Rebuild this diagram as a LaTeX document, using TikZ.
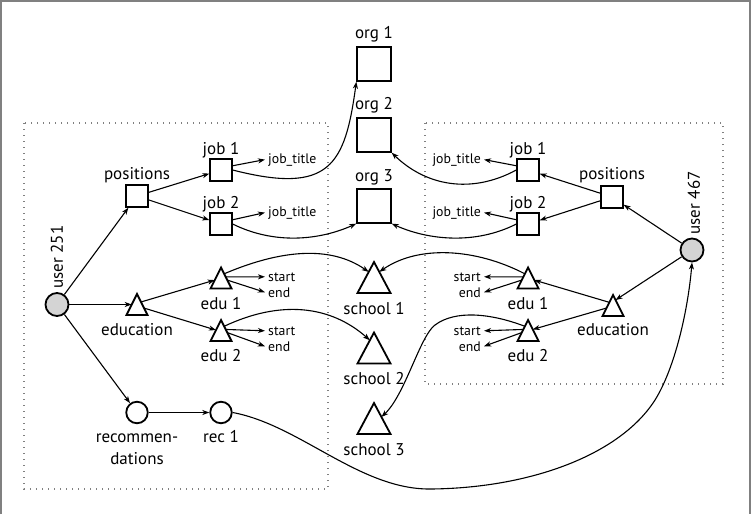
\documentclass[tikz,border=0pt]{standalone}
\usepackage{fontspec}
\setmainfont{PT Sans}
\usetikzlibrary{calc,arrows.meta}
\begin{document}
\begin{tikzpicture}[x=1pt,y=-1pt,
  box/.style={draw, line width=1.8pt, minimum size=21.5pt, inner sep=0pt},
  bigbox/.style={box, minimum size=33.5pt},
  tri/.style={minimum width=21pt, minimum height=21pt, inner sep=0pt, outer sep=0pt},
  bigtri/.style={minimum width=33pt, minimum height=31pt, inner sep=0pt, outer sep=0pt},
  triline/.style={draw, line width=1.8pt, line join=miter},
  usr/.style={draw, circle, fill=black!17, line width=1.8pt, minimum size=23pt, inner sep=0pt},
  recn/.style={draw, circle, line width=1.8pt, minimum size=21.5pt, inner sep=0pt},
  lab/.style={font=\fontsize{17}{19}\selectfont, inner sep=0pt},
  sml/.style={font=\fontsize{13.8}{15}\selectfont, inner sep=0pt},
  conn/.style={line width=1.1pt, -{Stealth[length=7pt,width=5pt,inset=2pt]}},
  grp/.style={draw=black!50, line width=1.3pt, dash pattern=on 1.3pt off 4.7pt},
  frame/.style={draw=black!50, line width=1.6pt}
]
\useasboundingbox (0,0) rectangle (751,514);
\draw[frame] (0.8,514) -- (0.8,0.8) -- (750.2,0.8) -- (750.2,514);
% group boxes
\draw[grp] (24,123) rectangle (328,489);
\draw[grp] (425,123) rectangle (723,384);
% centre column
\node[bigbox] (o1) at (374,64) {};
\node[bigbox] (o2) at (374,135) {};
\node[bigbox] (o3) at (374,206) {};
\node[lab, anchor=base] (lo1) at (374,38) {org 1};
\node[lab, anchor=base] (lo2) at (374,109) {org 2};
\node[lab, anchor=base] (lo3) at (374,181) {org 3};
\node[bigtri] (s1) at (374,277.5) {};
\node[bigtri] (s2) at (374,348) {};
\node[bigtri] (s3) at (374,418.5) {};
\node[lab, anchor=base] (ls1) at (374,314) {school 1};
\node[lab, anchor=base] (ls2) at (374,384) {school 2};
\node[lab, anchor=base] (ls3) at (374,455) {school 3};
% left user
\node[usr] (u1) at (57,304.5) {};
\node[lab, rotate=90] (lu1) at (57,257) {user 251};
\node[box] (p1) at (137,196) {};
\node[lab, anchor=base] (lp1) at (137,179) {positions};
\node[box] (j1) at (221,170) {};
\node[box] (j2) at (221,224) {};
\node[lab, anchor=base] (lj1) at (221,154) {job 1};
\node[lab, anchor=base] (lj2) at (221,208) {job 2};
\node[sml, anchor=base west] (t1) at (268,163) {job\_title};
\node[sml, anchor=base west] (t2) at (268,216) {job\_title};
\node[tri] (ed1) at (137,304.5) {};
\node[lab, anchor=base] (led1) at (137,335) {education};
\node[tri] (e1) at (221,278) {};
\node[tri] (e2) at (221,330.5) {};
\node[lab, anchor=base] (le1) at (221,309) {edu 1};
\node[lab, anchor=base] (le2) at (221,361) {edu 2};
\node[sml, anchor=base west] (st1) at (268,281) {start};
\node[sml, anchor=base west] (en1) at (268,297) {end};
\node[sml, anchor=base west] (st2) at (268,335) {start};
\node[sml, anchor=base west] (en2) at (268,351) {end};
\node[recn] (rc) at (137,412.5) {};
\node[lab, anchor=base] (lrc1) at (137,442) {recommen-};
\node[lab, anchor=base] (lrc2) at (137,464) {dations};
\node[recn] (r1) at (221,412.5) {};
\node[lab, anchor=base] (lr1) at (221,442) {rec 1};
% right user
\node[usr] (u2) at (692,250) {};
\node[lab, rotate=90] (lu2) at (694,203) {user 467};
\node[box] (p2) at (612,197) {};
\node[lab, anchor=base] (lp2) at (612,179) {positions};
\node[box] (k1) at (528,170) {};
\node[box] (k2) at (528,224) {};
\node[lab, anchor=base] (lk1) at (528,154) {job 1};
\node[lab, anchor=base] (lk2) at (528,208) {job 2};
\node[sml, anchor=base east] (t3) at (481,163) {job\_title};
\node[sml, anchor=base east] (t4) at (481,216) {job\_title};
\node[tri] (ed2) at (613,305.5) {};
\node[lab, anchor=base] (led2) at (613,335) {education};
\node[tri] (f1) at (528,278) {};
\node[tri] (f2) at (528,330.5) {};
\node[lab, anchor=base] (lf1) at (528,309) {edu 1};
\node[lab, anchor=base] (lf2) at (528,361) {edu 2};
\node[sml, anchor=base east] (st3) at (481,281) {start};
\node[sml, anchor=base east] (en3) at (481,297) {end};
\node[sml, anchor=base east] (st4) at (481,335) {start};
\node[sml, anchor=base east] (en4) at (481,351) {end};
% triangle outlines
\foreach \n in {s1,s2,s3,ed1,e1,e2,ed2,f1,f2}
  \draw[triline] (\n.south west) -- (\n.north) -- (\n.south east) -- cycle;
% left connectors
\draw[conn] (u1) -- (p1);
\draw[conn] (u1.east) -- ($(ed1.north)!0.5!(ed1.south west)$);
\draw[conn] (u1) -- (rc);
\draw[conn] (p1) -- (j1);
\draw[conn] (p1) -- (j2);
\draw[conn] (j1.20) -- ([xshift=-3pt]t1.west);
\draw[conn] (j2.20) -- ([xshift=-3pt]t2.west);
\draw[conn] ($(ed1.north)!0.38!(ed1.south east)$) -- ($(e1.north)!0.6!(e1.south west)$);
\draw[conn] ($(ed1.north)!0.67!(ed1.south east)$) -- ($(e2.north)!0.48!(e2.south west)$);
\draw[conn] ($(e1.north)!0.45!(e1.south east)$) -- ([xshift=-3pt]st1.west);
\draw[conn] ($(e1.north)!0.6!(e1.south east)$) -- ([xshift=-3pt]en1.west);
\draw[conn] ($(e2.north)!0.45!(e2.south east)$) -- ([xshift=-3pt]st2.west);
\draw[conn] ($(e2.north)!0.6!(e2.south east)$) -- ([xshift=-3pt]en2.west);
\draw[conn] (rc) -- (r1);
% right connectors
\draw[conn] (u2) -- (p2);
\draw[conn] (u2) -- ($(ed2.north)!0.24!(ed2.south east)$);
\draw[conn] (p2) -- (k1);
\draw[conn] (p2) -- (k2);
\draw[conn] (k1.160) -- ([xshift=3pt]t3.east);
\draw[conn] (k2.160) -- ([xshift=3pt]t4.east);
\draw[conn] ($(ed2.north)!0.35!(ed2.south west)$) -- ($(f1.north)!0.6!(f1.south east)$);
\draw[conn] ($(ed2.north)!0.62!(ed2.south west)$) -- ($(f2.north)!0.45!(f2.south east)$);
\draw[conn] ($(f1.north)!0.45!(f1.south west)$) -- ([xshift=3pt]st3.east);
\draw[conn] ($(f1.north)!0.6!(f1.south west)$) -- ([xshift=3pt]en3.east);
\draw[conn] ($(f2.north)!0.45!(f2.south west)$) -- ([xshift=3pt]st4.east);
\draw[conn] ($(f2.north)!0.6!(f2.south west)$) -- ([xshift=3pt]en4.east);
% cross links
\draw[conn] (j1.east) .. controls (330,195) and (345,165) .. (o1.south west);
\draw[conn] (j2.east) .. controls (275,245) and (320,240) .. (o3.south west);
\draw[conn] (k1.west) .. controls (470,195) and (425,185) .. (o2.south east);
\draw[conn] (k2.west) .. controls (475,245) and (428,240) .. (o3.south east);
\draw[conn] ($(e1.north)!0.3!(e1.south east)$) .. controls (280,250) and (330,245) .. ($(s1.north)!0.32!(s1.south west)$);
\draw[conn] ($(f1.north)!0.3!(f1.south west)$) .. controls (475,248) and (418,245) .. ($(s1.north)!0.32!(s1.south east)$);
\draw[conn] ($(e2.north)!0.3!(e2.south east)$) .. controls (280,300) and (330,305) .. ($(s2.north)!0.25!(s2.south west)$);
\draw[conn] ($(f2.north)!0.3!(f2.south west)$) .. controls (490,313) and (455,310) .. (435,325) .. controls (420,336) and (405,395) .. ($(s3.north)!0.45!(s3.south east)$);
\draw[conn] (r1.east) .. controls (300,425) and (360,490) .. (431,489) .. controls (530,488) and (620,455) .. (655,400) .. controls (675,368) and (688,310) .. (u2.south);
\end{tikzpicture}
\end{document}
